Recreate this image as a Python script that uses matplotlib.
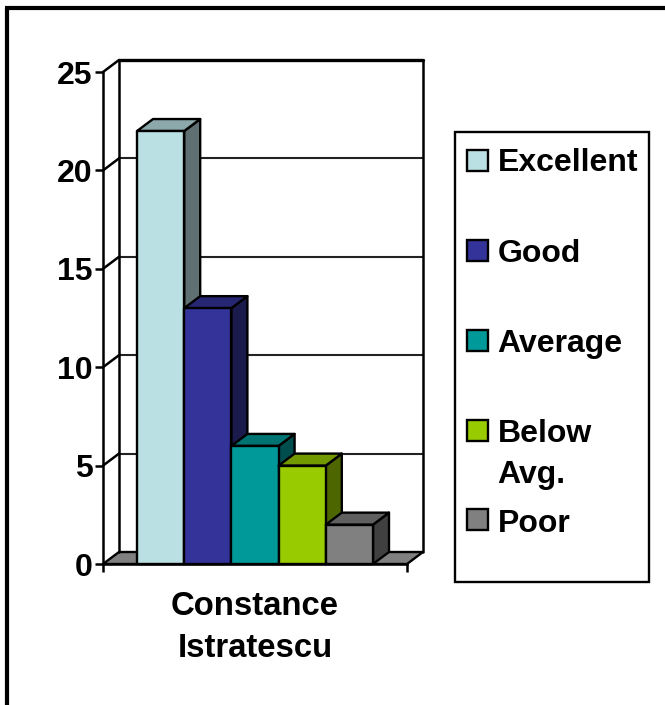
import matplotlib
matplotlib.use("Agg")
import matplotlib.pyplot as plt
from matplotlib.patches import Polygon, Rectangle
from matplotlib.lines import Line2D

categories = ["Constance\nIstratescu"]
series_names = ["Excellent", "Good", "Average", "Below\nAvg.", "Poor"]
series_values = [22, 13, 6, 5, 2]
series_colors = ["#BBE0E3", "#333399", "#009999", "#99CC00", "#808080"]
y_ticks = [0, 5, 10, 15, 20, 25]

W, H = 665, 705
FS = 23
plt.rcParams["font.family"] = ["Liberation Sans", "DejaVu Sans"]
fig = plt.figure(figsize=(W / 100, H / 100), dpi=100, facecolor="white")


def shade(c, f):
    r, g, b = matplotlib.colors.to_rgb(c)
    return (r * f, g * f, b * f)


# Outer frame
fig.add_artist(Line2D([7 / W, 7 / W], [0, 1 - 8 / H], color="black", lw=3.0, solid_capstyle="butt"))
fig.add_artist(Line2D([5 / W, 1], [1 - 8 / H, 1 - 8 / H], color="black", lw=3.0, solid_capstyle="butt"))

# Front plane of the plot
L, R, T, B = 103, 407, 72, 564
ax = fig.add_axes([L / W, 1 - B / H, (R - L) / W, (B - T) / H])
ax.set_xlim(0, 1)
ax.set_ylim(0, 25)
ax.patch.set_visible(False)
for s in ["top", "right"]:
    ax.spines[s].set_visible(False)
for s in ["left", "bottom"]:
    ax.spines[s].set_linewidth(1.8)

dx = 16 / (R - L)  # depth offset in data units
dy = 12 / ((B - T) / 25)
ymax = 25
lw = 1.7


def poly(pts, fc, z=3):
    ax.add_patch(Polygon(pts, closed=True, facecolor=fc, edgecolor="black", lw=lw,
                         joinstyle="round", clip_on=False, zorder=z))


def line(xs, ys, width=lw, color="black", z=2):
    ax.add_line(Line2D(xs, ys, color=color, lw=width, clip_on=False, zorder=z,
                       solid_capstyle="round"))


# Floor
poly([(0, 0), (1, 0), (1 + dx, dy), (dx, dy)], "#808080", z=1)

# Walls and gridlines
line([dx, dx], [dy, ymax + dy], width=1.8)
line([1 + dx, 1 + dx], [dy, ymax + dy], width=1.8)
line([dx, 1 + dx], [ymax + dy, ymax + dy], width=2.4)
for t in y_ticks[1:]:
    line([0, dx], [t, t + dy], width=1.8)
    if t < ymax:
        line([dx, 1 + dx], [t + dy, t + dy], width=1.5, color="#222222", z=1.5)

# Bars
n = len(series_values)
margin = 34 / (R - L)
bw = (1 - 2 * margin) / n
for i, (v, c) in enumerate(zip(series_values, series_colors)):
    x0 = margin + i * bw
    x1 = x0 + bw
    z = 3 + i * 0.1
    poly([(x1, 0), (x1 + dx, dy), (x1 + dx, v + dy), (x1, v)], shade(c, 0.5), z=z)
    poly([(x0, v), (x1, v), (x1 + dx, v + dy), (x0 + dx, v + dy)], shade(c, 0.75), z=z)
    poly([(x0, 0), (x1, 0), (x1, v), (x0, v)], c, z=z + 0.05)

# Ticks
ax.set_yticks(y_ticks)
ax.set_yticklabels([str(t) for t in y_ticks], fontsize=FS, fontweight="bold")
ax.tick_params(axis="y", length=6, width=1.8, pad=1.5)
ax.set_xticks([0, 1])
ax.set_xticklabels(["", ""])
ax.tick_params(axis="x", which="major", length=6, width=1.8)
ax.set_xticks([0.5], minor=True)
ax.set_xticklabels(categories, minor=True, fontsize=23.7, fontweight="bold", linespacing=1.47)
ax.tick_params(axis="x", which="minor", length=0, pad=19.5)

# Legend box
lg = fig.add_axes([0, 0, 1, 1], zorder=5)
lg.set_xlim(0, W)
lg.set_ylim(H, 0)
lg.axis("off")
lg.add_patch(Rectangle((455, 132), 194, 450, facecolor="white", edgecolor="black", lw=1.7))
tops = [150, 240, 330, 420, 509]
baselines = [171, 262, 352, 483, 532]
for name, c, t, b in zip(series_names, series_colors, tops, baselines):
    lg.add_patch(Rectangle((467, t), 21, 21, facecolor=c, edgecolor="black", lw=1.7))
    lg.text(497.5, b, name, fontsize=FS, fontweight="bold", va="baseline", ha="left", linespacing=1.5)

fig.savefig("out.png", dpi=100, facecolor="white")
